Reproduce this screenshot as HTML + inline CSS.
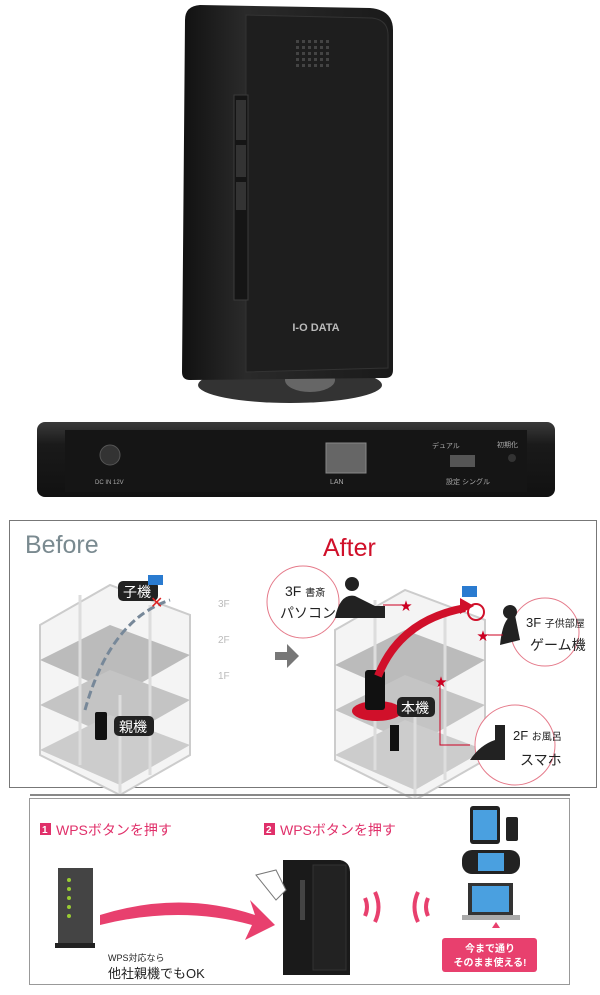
<!DOCTYPE html>
<html><head><meta charset="utf-8"><style>
body{margin:0;background:#fff;width:600px;height:990px;overflow:hidden;font-family:"Liberation Sans","Noto Sans CJK JP",sans-serif}
</style></head><body>
<svg width="600" height="990" viewBox="0 0 600 990" xmlns="http://www.w3.org/2000/svg" font-family="Liberation Sans, Noto Sans CJK JP, sans-serif">
<defs>
<linearGradient id="dev" x1="0" x2="1"><stop offset="0" stop-color="#111"/><stop offset="0.3" stop-color="#2a2a2a"/><stop offset="1" stop-color="#1a1a1a"/></linearGradient>
<linearGradient id="back" y1="0" y2="1" x1="0" x2="0"><stop offset="0" stop-color="#3a3a3a"/><stop offset="0.3" stop-color="#1a1a1a"/><stop offset="1" stop-color="#111"/></linearGradient>
<g id="bld">
<path d="M0 60 L70 20 L150 50 L150 190 L80 230 L0 190 Z" fill="#f4f4f4" stroke="#ccc" stroke-width="2"/>
<path d="M0 95 L70 60 L150 90 L80 130 Z" fill="#bbb"/>
<path d="M0 140 L70 105 L150 135 L80 175 Z" fill="#c4c4c4"/>
<path d="M0 185 L70 150 L150 180 L80 220 Z" fill="#ccc"/>
<path d="M80 130 L80 230 M40 30 L40 200 M110 40 L110 210" stroke="#ddd" stroke-width="3" fill="none"/>
</g>
</defs>
<!-- top device -->
<ellipse cx="290" cy="385" rx="92" ry="18" fill="#333"/>
<ellipse cx="310" cy="380" rx="25" ry="12" fill="#666"/>
<path d="M185 20 Q185 6 200 5 L370 8 Q393 10 393 30 L393 370 Q393 378 385 378 L190 380 Q182 380 182 372 Z" fill="url(#dev)"/>
<path d="M246 15 L372 18 Q388 20 388 35 L388 368 L246 372 Z" fill="#1e1e1e" stroke="#333"/>
<g fill="#444">
<rect x="296" y="40" width="3" height="3"/><rect x="302" y="40" width="3" height="3"/><rect x="308" y="40" width="3" height="3"/><rect x="314" y="40" width="3" height="3"/><rect x="320" y="40" width="3" height="3"/><rect x="326" y="40" width="3" height="3"/>
<rect x="296" y="46" width="3" height="3"/><rect x="302" y="46" width="3" height="3"/><rect x="308" y="46" width="3" height="3"/><rect x="314" y="46" width="3" height="3"/><rect x="320" y="46" width="3" height="3"/><rect x="326" y="46" width="3" height="3"/>
<rect x="296" y="52" width="3" height="3"/><rect x="302" y="52" width="3" height="3"/><rect x="308" y="52" width="3" height="3"/><rect x="314" y="52" width="3" height="3"/><rect x="320" y="52" width="3" height="3"/><rect x="326" y="52" width="3" height="3"/>
<rect x="296" y="58" width="3" height="3"/><rect x="302" y="58" width="3" height="3"/><rect x="308" y="58" width="3" height="3"/><rect x="314" y="58" width="3" height="3"/><rect x="320" y="58" width="3" height="3"/><rect x="326" y="58" width="3" height="3"/>
<rect x="296" y="64" width="3" height="3"/><rect x="302" y="64" width="3" height="3"/><rect x="308" y="64" width="3" height="3"/><rect x="314" y="64" width="3" height="3"/><rect x="320" y="64" width="3" height="3"/><rect x="326" y="64" width="3" height="3"/>
</g>
<rect x="234" y="95" width="14" height="205" fill="#151515" stroke="#3a3a3a"/>
<rect x="236" y="100" width="10" height="40" fill="#333"/><rect x="236" y="145" width="10" height="32" fill="#333"/><rect x="236" y="182" width="10" height="28" fill="#333"/>
<text x="316" y="331" font-size="11" font-weight="bold" fill="#bbb" text-anchor="middle">I-O DATA</text>
<!-- back view -->
<rect x="37" y="422" width="518" height="75" rx="8" fill="url(#back)"/>
<rect x="65" y="430" width="462" height="62" fill="#151515"/>
<circle cx="110" cy="455" r="10" fill="#333" stroke="#555"/>
<text x="95" y="484" font-size="6" fill="#aaa">DC IN 12V</text>
<rect x="326" y="443" width="40" height="30" fill="#666" stroke="#888"/>
<text x="330" y="484" font-size="7" fill="#aaa">LAN</text>
<text x="432" y="448" font-size="7" fill="#aaa">デュアル</text>
<rect x="450" y="455" width="25" height="12" fill="#555"/>
<text x="446" y="484" font-size="7" fill="#aaa">設定 シングル</text>
<text x="497" y="447" font-size="7" fill="#aaa">初期化</text>
<circle cx="512" cy="458" r="4" fill="#333"/>
<!-- before/after box -->
<rect x="9.5" y="520.5" width="587" height="267" fill="#fff" stroke="#777"/>
<text x="25" y="553" font-size="25" fill="#7a8a90">Before</text>
<text x="323" y="556" font-size="25" fill="#d0102a">After</text>
<use href="#bld" x="40" y="565"/>
<use href="#bld" x="335" y="570"/>
<path d="M85 710 Q110 620 170 600" stroke="#789" stroke-width="3" stroke-dasharray="8 4" fill="none"/>
<rect x="118" y="581" width="40" height="20" rx="5" fill="#222"/><text x="123" y="597" font-size="14" fill="#fff">子機</text>
<text x="150" y="608" font-size="16" fill="#d22">✕</text>
<rect x="148" y="575" width="15" height="10" fill="#2a7bd0"/>
<text x="218" y="607" font-size="10" fill="#bbb">3F</text><text x="218" y="643" font-size="10" fill="#bbb">2F</text><text x="218" y="679" font-size="10" fill="#bbb">1F</text>
<rect x="95" y="712" width="12" height="28" rx="2" fill="#111"/>
<rect x="114" y="716" width="40" height="20" rx="5" fill="#222"/><text x="119" y="732" font-size="14" fill="#fff">親機</text>
<path d="M275 652 h12 v-8 l12 12 l-12 12 v-8 h-12 z" fill="#777"/>
<ellipse cx="377" cy="711" rx="25" ry="10" fill="#d0102a"/>
<rect x="365" y="670" width="20" height="40" rx="3" fill="#111"/>
<path d="M378 676 Q400 620 465 608" stroke="#d0102a" stroke-width="8" fill="none"/>
<path d="M460 598 l14 8 l-14 8 z" fill="#d0102a"/>
<circle cx="476" cy="612" r="8" fill="none" stroke="#d0102a" stroke-width="2"/>
<rect x="462" y="586" width="15" height="11" fill="#2a7bd0"/>
<rect x="397" y="697" width="38" height="20" rx="5" fill="#222"/><text x="401" y="713" font-size="14" fill="#fff">本機</text>
<rect x="390" y="725" width="9" height="26" fill="#111"/>
<g fill="#fff" stroke="#e57a8a"><circle cx="303" cy="602" r="36"/><circle cx="545" cy="632" r="34"/><circle cx="515" cy="745" r="40"/></g>
<g fill="#222"><path d="M335 618 q5 -25 20 -22 l20 10 l10 0 l0 12 z"/><circle cx="352" cy="584" r="7"/><path d="M500 645 q3 -30 15 -30 l5 25 z"/><circle cx="510" cy="612" r="7"/><path d="M470 760 q10 -15 25 -20 l0 -15 l10 0 l0 35 z"/></g>
<text x="285" y="596" font-size="14" fill="#222">3F <tspan font-size="10">書斎</tspan></text>
<text x="280" y="618" font-size="14" fill="#222">パソコン</text>
<text x="526" y="627" font-size="13" fill="#222">3F <tspan font-size="10">子供部屋</tspan></text>
<text x="530" y="650" font-size="14" fill="#222">ゲーム機</text>
<text x="513" y="740" font-size="13" fill="#222">2F <tspan font-size="10">お風呂</tspan></text>
<text x="520" y="765" font-size="14" fill="#222">スマホ</text>
<g stroke="#c02" fill="none"><path d="M383 605 h23"/><path d="M440 680 v65 h30"/><path d="M488 635 h15"/></g>
<g fill="#c02" font-size="12"><text x="400" y="610">★</text><text x="435" y="686">★</text><text x="477" y="640">★</text></g>
<line x1="30" y1="795" x2="570" y2="795" stroke="#888" stroke-width="2"/>
<!-- bottom box -->
<rect x="29.5" y="798.5" width="540" height="186" fill="#fff" stroke="#999"/>
<rect x="40" y="823" width="11" height="12" fill="#e0306a"/><text x="42" y="833" font-size="10" fill="#fff" font-weight="bold">1</text>
<text x="56" y="835" font-size="14" fill="#e0306a">WPSボタンを押す</text>
<rect x="264" y="823" width="11" height="12" fill="#e0306a"/><text x="266" y="833" font-size="10" fill="#fff" font-weight="bold">2</text>
<text x="280" y="835" font-size="14" fill="#e0306a">WPSボタンを押す</text>
<rect x="58" y="868" width="35" height="75" fill="#444"/><rect x="55" y="943" width="40" height="5" fill="#222"/>
<g fill="#9c3"><circle cx="69" cy="880" r="2"/><circle cx="69" cy="889" r="2"/><circle cx="69" cy="898" r="2"/><circle cx="69" cy="907" r="2"/><circle cx="69" cy="916" r="2"/></g>
<path d="M100 915 Q180 890 255 915 L250 900 L275 925 L245 940 L252 925 Q180 905 100 925 Z" fill="#e8406e"/>
<text x="108" y="961" font-size="9" fill="#222">WPS対応なら</text>
<text x="108" y="978" font-size="13" fill="#222">他社親機でもOK</text>
<path d="M283 860 L340 860 Q350 862 350 872 L350 975 L283 975 Z" fill="#1a1a1a"/>
<rect x="313" y="865" width="33" height="105" fill="#222" stroke="#333"/>
<rect x="300" y="880" width="5" height="40" fill="#444"/>
<path d="M256 875 l20 -5 l10 20 l-10 10 z" fill="#fff" stroke="#777"/>
<g stroke="#e8406e" stroke-width="4" fill="none"><path d="M365 898 q4 9 0 18"/><path d="M375 892 q7 15 0 30"/><path d="M428 898 q-4 9 0 18"/><path d="M418 892 q-7 15 0 30"/></g>
<rect x="470" y="806" width="30" height="38" rx="3" fill="#222"/><rect x="473" y="810" width="24" height="30" fill="#4aa0e0"/>
<rect x="506" y="817" width="12" height="24" rx="2" fill="#222"/>
<rect x="462" y="850" width="58" height="24" rx="10" fill="#222"/><rect x="478" y="853" width="26" height="18" fill="#4aa0e0"/>
<rect x="468" y="883" width="45" height="32" fill="#333"/><rect x="472" y="886" width="37" height="26" fill="#4aa0e0"/><rect x="462" y="915" width="58" height="5" fill="#aaa"/>
<path d="M492 928 l4 -6 l4 6 z" fill="#e8406e"/>
<rect x="442" y="938" width="95" height="34" rx="3" fill="#e8406e"/>
<text x="490" y="952" font-size="10" fill="#fff" text-anchor="middle" font-weight="bold">今まで通り</text>
<text x="490" y="966" font-size="10" fill="#fff" text-anchor="middle" font-weight="bold">そのまま使える!</text>
</svg>
</body></html>
